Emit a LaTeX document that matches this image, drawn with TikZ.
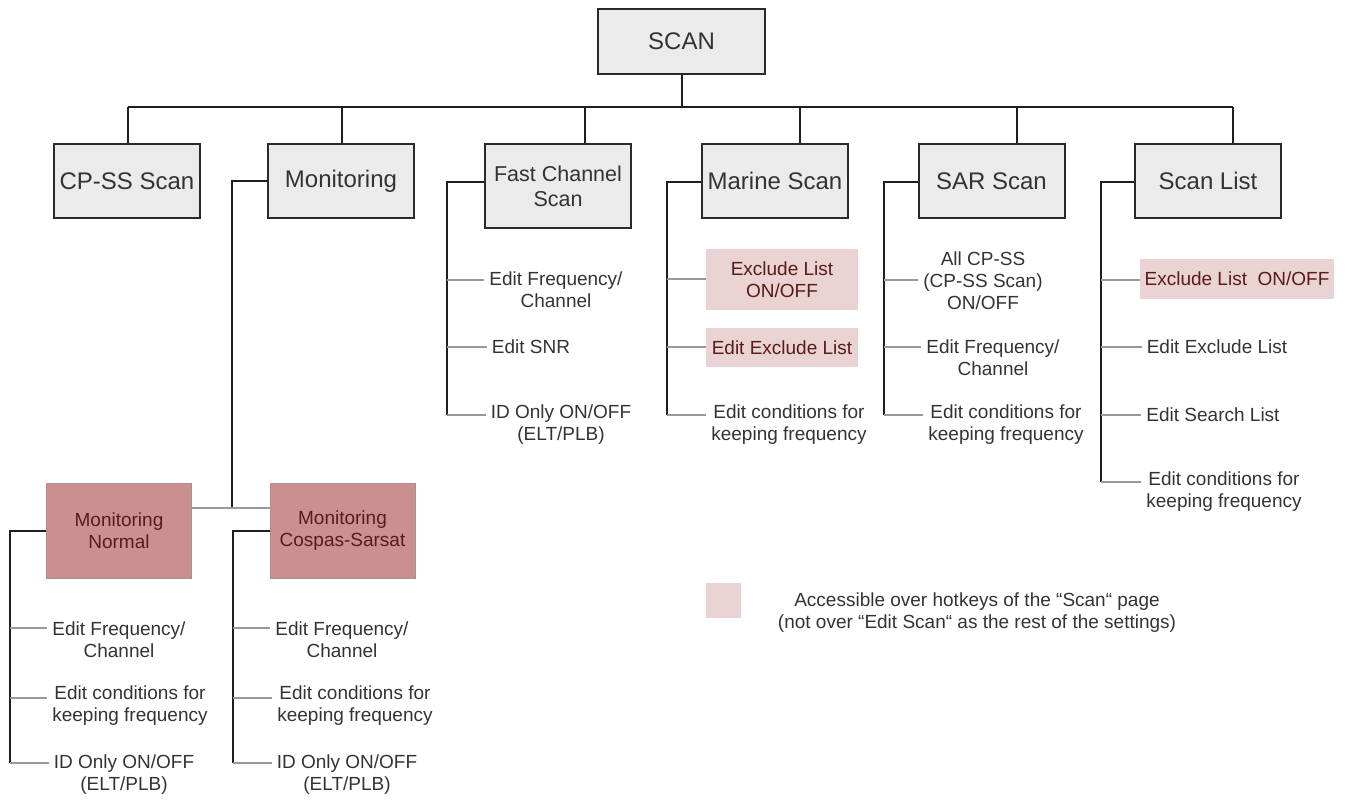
\documentclass[tikz,border=0pt]{standalone}
\usepackage{fontspec}
\setmainfont{Liberation Sans}
\definecolor{boxfill}{HTML}{EBEBEB}
\definecolor{boxdraw}{HTML}{2A2A2A}
\definecolor{txt}{HTML}{333333}
\definecolor{pinkl}{HTML}{EAD3D3}
\definecolor{pinkd}{HTML}{CC8F8F}
\definecolor{pinkdraw}{HTML}{A89090}
\definecolor{redtxt}{HTML}{5A1A1A}
\definecolor{trunkc}{HTML}{1E1E1E}
\definecolor{branchc}{HTML}{999999}
\begin{document}
\begin{tikzpicture}[x=1pt,y=-1pt,
 gbox/.style={draw=boxdraw,line width=2pt,fill=boxfill,text=txt,font=\fontsize{24}{27}\selectfont,align=center,inner sep=0pt,minimum width=146pt,minimum height=74pt},
 lbox/.style={fill=pinkl,text=redtxt,font=\fontsize{19}{22}\selectfont,align=center,inner sep=0pt},
 dbox/.style={fill=pinkd,draw=pinkdraw,line width=1pt,text=redtxt,font=\fontsize{19}{22}\selectfont,align=center,inner sep=0pt,minimum width=145pt,minimum height=95pt},
 item/.style={text=txt,font=\fontsize{19}{22}\selectfont,align=center,inner xsep=5pt,inner ysep=0pt},
 trunk/.style={draw=trunkc,line width=2pt},
 branch/.style={draw=branchc,line width=1.5pt}]
\path[use as bounding box] (0,0) rectangle (1347,801);

% top level
\node[gbox,minimum width=167pt,minimum height=65pt] (scan) at (681.5,41.5) {SCAN};
\node[gbox] (cpss) at (127,181) {CP-SS Scan};
\node[gbox] (mon) at (341,181) {Monitoring};
\node[gbox,minimum height=84pt,font=\fontsize{21.5}{25}\selectfont] (fc) at (558,186) {Fast Channel\\Scan};
\node[gbox] (ms) at (775,181) {Marine Scan};
\node[gbox] (sar) at (991.5,181) {SAR Scan};
\node[gbox] (sl) at (1208,181) {Scan List};

\coordinate (d1) at (128,107);
\coordinate (d2) at (342,107);
\coordinate (d3) at (585,107);
\coordinate (d4) at (800,107);
\coordinate (d5) at (1017,107);
\coordinate (d6) at (1233,107);
\draw[trunk] (scan.south) -- (scan.south |- d1);
\draw[trunk] (d1) -- (d6);
\draw[trunk] (d1) -- (d1 |- cpss.north);
\draw[trunk] (d2) -- (d2 |- mon.north);
\draw[trunk] (d3) -- (d3 |- fc.north);
\draw[trunk] (d4) -- (d4 |- ms.north);
\draw[trunk] (d5) -- (d5 |- sar.north);
\draw[trunk] (d6) -- (d6 |- sl.north);

% Fast Channel Scan
\node[item] (f1) at (556,290) {Edit Frequency/\\Channel};
\node[item] (f2) at (531,347) {Edit SNR};
\node[item] (f3) at (561,425) {ID Only ON/OFF\\(ELT/PLB)};
\coordinate (ft) at (447,182);
\coordinate (fb1) at (447,280);
\coordinate (fb2) at (447,347);
\coordinate (fb3) at (447,415);
\draw[trunk] (ft -| fc.west) -- (ft) -- (fb3);
\draw[branch] (fb1) -- (fb1 -| f1.west);
\draw[branch] (fb2) -- (fb2 -| f2.west);
\draw[branch] (fb3) -- (fb3 -| f3.west);

% Marine Scan
\node[lbox,minimum width=152pt,minimum height=61pt] (m1) at (782,279.5) {Exclude List\\ON/OFF};
\node[lbox,minimum width=152pt,minimum height=39pt] (m2) at (782,347.5) {Edit Exclude List};
\node[item] (m3) at (789,425) {Edit conditions for\\keeping frequency};
\coordinate (mt) at (667,182);
\coordinate (mb1) at (667,279);
\coordinate (mb2) at (667,347);
\coordinate (mb3) at (667,415);
\draw[trunk] (mt -| ms.west) -- (mt) -- (mb3);
\draw[branch] (mb1) -- (mb1 -| m1.west);
\draw[branch] (mb2) -- (mb2 -| m2.west);
\draw[branch] (mb3) -- (mb3 -| m3.west);

% SAR Scan
\node[item] (s1) at (983,281) {All CP-SS\\(CP-SS Scan)\\ON/OFF};
\node[item] (s2) at (993,358) {Edit Frequency/\\Channel};
\node[item] (s3) at (1006,425) {Edit conditions for\\keeping frequency};
\coordinate (st) at (884,182);
\coordinate (sb1) at (884,280);
\coordinate (sb2) at (884,347);
\coordinate (sb3) at (884,415);
\draw[trunk] (st -| sar.west) -- (st) -- (sb3);
\draw[branch] (sb1) -- (sb1 -| s1.west);
\draw[branch] (sb2) -- (sb2 -| s2.west);
\draw[branch] (sb3) -- (sb3 -| s3.west);

% Scan List
\node[lbox,minimum width=194pt,minimum height=40pt] (l1) at (1237,279) {Exclude List\ \ ON/OFF};
\node[item] (l2) at (1217,347) {Edit Exclude List};
\node[item] (l3) at (1213,415) {Edit Search List};
\node[item] (l4) at (1224,492) {Edit conditions for\\keeping frequency};
\coordinate (lt) at (1101,182);
\coordinate (lb1) at (1101,280);
\coordinate (lb2) at (1101,347);
\coordinate (lb3) at (1101,415);
\coordinate (lb4) at (1101,482);
\draw[trunk] (lt -| sl.west) -- (lt) -- (lb4);
\draw[branch] (lb1) -- (lb1 -| l1.west);
\draw[branch] (lb2) -- (lb2 -| l2.west);
\draw[branch] (lb3) -- (lb3 -| l3.west);
\draw[branch] (lb4) -- (lb4 -| l4.west);

% Monitoring
\node[dbox] (mn) at (119,531) {Monitoring\\Normal};
\node[dbox] (mc) at (342.5,531) {Monitoring\\Cospas-Sarsat};
\coordinate (mot) at (232,181);
\coordinate (moe) at (232,508);
\draw[trunk] (mon.west) -- (mot) -- (moe);
\draw[branch] (mn.east |- moe) -- (mc.west |- moe);

\node[item] (n1) at (119,640) {Edit Frequency/\\Channel};
\node[item] (n2) at (130,706) {Edit conditions for\\keeping frequency};
\node[item] (n3) at (124,775) {ID Only ON/OFF\\(ELT/PLB)};
\coordinate (nt) at (10,531);
\coordinate (nb1) at (10,628);
\coordinate (nb2) at (10,698);
\coordinate (nb3) at (10,763);
\draw[trunk] (mn.west) -- (nt) -- (nb3);
\draw[branch] (nb1) -- (nb1 -| n1.west);
\draw[branch] (nb2) -- (nb2 -| n2.west);
\draw[branch] (nb3) -- (nb3 -| n3.west);

\node[item] (c1) at (342,640) {Edit Frequency/\\Channel};
\node[item] (c2) at (355,706) {Edit conditions for\\keeping frequency};
\node[item] (c3) at (347,775) {ID Only ON/OFF\\(ELT/PLB)};
\coordinate (ct) at (233,531);
\coordinate (cb1) at (233,628);
\coordinate (cb2) at (233,698);
\coordinate (cb3) at (233,763);
\draw[trunk] (mc.west) -- (ct) -- (cb3);
\draw[branch] (cb1) -- (cb1 -| c1.west);
\draw[branch] (cb2) -- (cb2 -| c2.west);
\draw[branch] (cb3) -- (cb3 -| c3.west);

% legend
\node[fill=pinkl,minimum size=35pt,inner sep=0pt] (leg) at (723.5,600.5) {};
\node[item] (legt) at (977,613) {Accessible over hotkeys of the “Scan“ page\\(not over “Edit Scan“ as the rest of the settings)};
\end{tikzpicture}
\end{document}
